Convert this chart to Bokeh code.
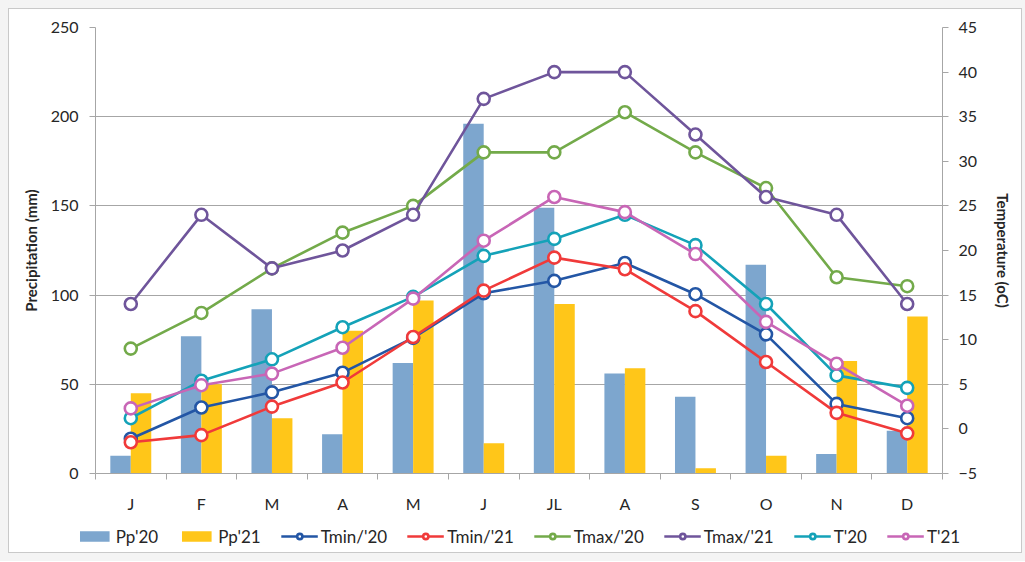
from bokeh.plotting import figure
from bokeh.layouts import column, row
from bokeh.models import (Range1d, LinearAxis, FixedTicker, Legend, LegendItem)
from bokeh.embed import file_html
from bokeh.resources import INLINE

months = ["J", "F", "M", "A", "M", "J", "JL", "A", "S", "O", "N", "D"]
pp20 = [10, 77, 92, 22, 62, 196, 149, 56, 43, 117, 11, 24]
pp21 = [45, 50, 31, 80, 97, 17, 95, 59, 3, 10, 63, 88]
tmin20 = [-1.1, 2.4, 4.1, 6.3, 10.2, 15.2, 16.6, 18.6, 15.1, 10.6, 2.8, 1.2]
tmin21 = [-1.5, -0.7, 2.5, 5.2, 10.3, 15.5, 19.2, 17.9, 13.2, 7.5, 1.8, -0.5]
tmax20 = [9, 13, 18, 22, 25, 31, 31, 35.5, 31, 27, 17, 16]
tmax21 = [14, 24, 18, 20, 24, 37, 40, 40, 33, 26, 24, 14]
t20 = [1.2, 5.4, 7.8, 11.4, 14.8, 19.4, 21.3, 24.0, 20.6, 14.0, 6.0, 4.6]
t21 = [2.3, 4.9, 6.2, 9.1, 14.6, 21.1, 26.0, 24.3, 19.6, 12.0, 7.3, 2.6]

left_ticks = [0, 50, 100, 150, 200, 250]
right_ticks = [-5, 0, 5, 10, 15, 20, 25, 30, 35, 40, 45]

FONT = "Lato"
GRID = "#a6a6a6"
TXT = "#262626"
BAR20 = "#7DA6CE"
BAR21 = "#FFC619"
series = [
    ("Tmin/'20", tmin20, "#2356A5"),
    ("Tmin/'21", tmin21, "#F03A3A"),
    ("Tmax/'20", tmax20, "#73AA4A"),
    ("Tmax/'21", tmax21, "#6F559B"),
    ("T'20", t20, "#14A2B8"),
    ("T'21", t21, "#C866B6"),
]

xc = [i + 0.5 for i in range(len(months))]
bw = 0.29


def add_marks(fig, y_name):
    b1 = fig.vbar(x=[x - bw / 2 for x in xc], top=pp20, width=bw,
                  fill_color=BAR20, line_color=None)
    b2 = fig.vbar(x=[x + bw / 2 for x in xc], top=pp21, width=bw,
                  fill_color=BAR21, line_color=None)
    its = [LegendItem(label="Pp'20", renderers=[b1]),
           LegendItem(label="Pp'21", renderers=[b2])]
    for name, vals, col in series:
        l = fig.line(xc, vals, y_range_name=y_name, line_color=col, line_width=2.6)
        s = fig.scatter(xc, vals, y_range_name=y_name, marker="circle", size=12,
                        fill_color="white", line_color=col, line_width=2.6)
        its.append(LegendItem(label=name, renderers=[l, s]))
    return its


p = figure(width=1012, height=506, output_backend="svg", toolbar_location=None,
           x_range=Range1d(0, len(months)), y_range=Range1d(0, 250),
           min_border_left=86, min_border_right=79, min_border_top=18,
           min_border_bottom=41)
p.outline_line_color = None
p.background_fill_color = "white"
p.border_fill_color = "white"
p.extra_y_ranges = {"temp": Range1d(-5, 45)}

# x axis
p.xaxis.ticker = FixedTicker(ticks=xc, minor_ticks=list(range(len(months) + 1)))
p.xaxis.major_label_overrides = {x: m for x, m in zip(xc, months)}
p.xaxis.major_tick_line_color = None
p.xaxis.major_tick_out = 0
p.xaxis.major_tick_in = 0
p.xaxis.minor_tick_out = 6
p.xaxis.minor_tick_in = 0
p.xaxis.minor_tick_line_color = GRID
p.xaxis.axis_line_color = GRID
p.xaxis.major_label_standoff = 14
p.xaxis.major_label_text_font = FONT
p.xaxis.major_label_text_font_size = "16px"
p.xaxis.major_label_text_color = TXT
p.xgrid.grid_line_color = None

# left axis
p.yaxis.ticker = FixedTicker(ticks=left_ticks)
p.yaxis.axis_label = "Precipitation (mm)"
p.yaxis.axis_label_text_font = FONT
p.yaxis.axis_label_text_font_style = "bold"
p.yaxis.axis_label_text_font_size = "15px"
p.yaxis.axis_label_text_color = TXT
p.yaxis.axis_label_standoff = 8
p.yaxis.major_label_text_font = FONT
p.yaxis.major_label_text_font_size = "16px"
p.yaxis.major_label_text_color = TXT
p.yaxis.major_label_standoff = 11
p.yaxis.major_tick_out = 6
p.yaxis.major_tick_in = 0
p.yaxis.minor_tick_line_color = None
p.yaxis.major_tick_line_color = GRID
p.yaxis.axis_line_color = GRID
p.ygrid.ticker = FixedTicker(ticks=left_ticks)
p.ygrid.grid_line_color = GRID

# right axis
ra = LinearAxis(y_range_name="temp", ticker=FixedTicker(ticks=right_ticks),
                axis_label="Temperature (oC)")
ra.axis_label_text_font = FONT
ra.axis_label_text_font_style = "bold"
ra.axis_label_text_font_size = "15px"
ra.axis_label_text_color = TXT
ra.axis_label_standoff = 14
ra.major_label_text_font = FONT
ra.major_label_text_font_size = "16px"
ra.major_label_text_color = TXT
ra.major_label_standoff = 10
ra.major_tick_out = 6
ra.major_tick_in = 0
ra.minor_tick_line_color = None
ra.major_tick_line_color = GRID
ra.axis_line_color = GRID
p.add_layout(ra, "right")

add_marks(p, "temp")

# legend strip: a separate figure (so the legend is not clipped by the plot
# frame); its ranges keep the same series out of view, only the legend shows.
lg = figure(width=1012, height=37, output_backend="svg", toolbar_location=None,
            x_range=Range1d(0, len(months)), y_range=Range1d(1000, 1001),
            x_axis_type=None, y_axis_type=None,
            min_border_left=6, min_border_right=0, min_border_top=5,
            min_border_bottom=0)
lg.extra_y_ranges = {"temp": Range1d(1000, 1001)}
lg.outline_line_color = None
lg.grid.grid_line_color = None
lg.border_fill_color = "white"
lg.background_fill_color = "white"

items = add_marks(lg, "temp")

legend = Legend(items=items, orientation="horizontal", location="center")
legend.glyph_width = 37
legend.glyph_height = 13
legend.label_standoff = 3
legend.spacing = 20
legend.padding = 0
legend.margin = 0
legend.border_line_color = None
legend.background_fill_alpha = 0
legend.label_text_font = FONT
legend.label_text_font_size = "17px"
legend.label_text_color = TXT
lg.add_layout(legend, "center")

layout = column(p, row(lg, spacing=0), spacing=0)
layout.styles = {"margin": "8px", "border": "1px solid #c9c9c9",
                 "box-shadow": "0 0 0 8px #f4f4f4", "background": "white"}

open("out.html", "w").write(file_html(layout, INLINE))
